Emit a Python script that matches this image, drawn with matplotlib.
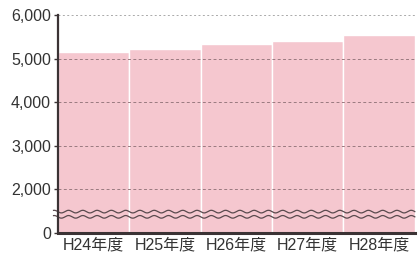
import numpy as np
import matplotlib
matplotlib.use("Agg")
import matplotlib.pyplot as plt

plt.rcParams['font.family'] = ['Liberation Sans', 'Noto Sans CJK JP']

years = ["H24年度", "H25年度", "H26年度", "H27年度", "H28年度"]
values = [5160, 5230, 5340, 5410, 5550]
tick_vals = [1000, 2000, 3000, 4000, 5000, 6000]   # 1000 slot shows "0" (broken axis)
tick_labels = ["0", "2,000", "3,000", "4,000", "5,000", "6,000"]

pink = "#f5c7cf"
dark = "#3b3335"
grid_col = "#9a7a80"

fig = plt.figure(figsize=(4.19, 2.58), dpi=100)
ax = fig.add_axes([0.138, 0.097, 0.852, 0.845])

x = np.arange(len(years))
base = 1000
ax.bar(x, np.array(values) - base, bottom=base, width=1.0, color=pink,
       edgecolor="white", linewidth=1.0, zorder=1)

for v in tick_vals[1:-1]:
    ax.axhline(v, color=grid_col, lw=0.7, ls=(0, (3, 2.5)), zorder=2)
ax.axhline(6000, color="#aaaaaa", lw=0.7, ls=(0, (2, 2.5)), zorder=2)

# break marks (wavy lines)
wx = np.linspace(-0.56, 4.5, 800)
for yc in (1370, 1490):
    ax.plot(wx, yc + 30 * np.sin(2 * np.pi * wx / 0.2), color="#5a4a4e",
            lw=0.9, zorder=3, clip_on=False)

ax.set_xlim(-0.5, 4.5)
ax.set_ylim(1000, 6000)
ax.set_yticks(tick_vals)
ax.set_yticklabels(tick_labels)
ax.set_xticks(x)
ax.set_xticklabels(years)
ax.tick_params(axis="y", length=3, width=1, color=dark, labelsize=11.5,
               labelcolor="#333333", pad=2)
ax.tick_params(axis="x", length=0, labelsize=11.5, labelcolor="#333333", pad=3)

for s in ("top", "right"):
    ax.spines[s].set_visible(False)
ax.spines["left"].set_color(dark)
ax.spines["left"].set_linewidth(1.6)
ax.spines["bottom"].set_color(dark)
ax.spines["bottom"].set_linewidth(2.2)
ax.spines["left"].set_zorder(4)
ax.spines["bottom"].set_zorder(4)

fig.savefig("out.png", dpi=100)
